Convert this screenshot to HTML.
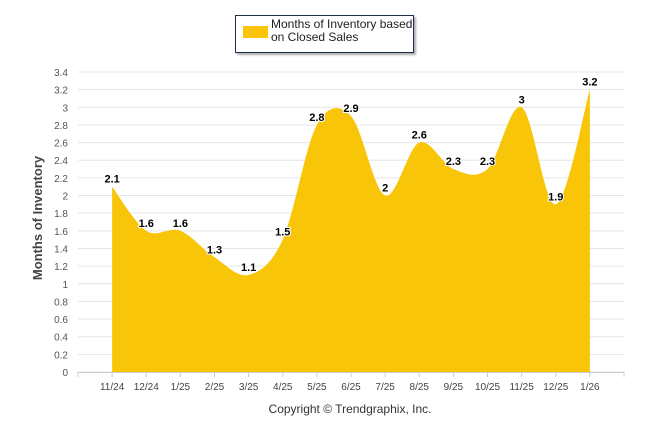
<!DOCTYPE html>
<html><head><meta charset="utf-8"><style>
body{margin:0;background:#fff;width:646px;height:434px;overflow:hidden;font-family:"Liberation Sans",sans-serif}
</style></head><body>
<svg id="c" width="646" height="434" xmlns="http://www.w3.org/2000/svg">
<g>
<rect x="235.5" y="15.5" width="178" height="37" fill="#fff" stroke="#1f2d4d" stroke-width="1" style="filter:drop-shadow(2px 2px 1px #aaa)"/>
<rect x="243" y="26" width="25" height="12" fill="#f8c508"/>
<text x="271" y="28" font-size="12" fill="#222">Months of Inventory based</text>
<text x="271" y="41" font-size="12" fill="#222">on Closed Sales</text>
</g>
<g id="grid"></g><g id="area"></g><g id="labels"></g>
<text transform="translate(42,218) rotate(-90)" text-anchor="middle" font-size="13" font-weight="bold" fill="#444">Months of Inventory</text>
<text x="350" y="413" text-anchor="middle" font-size="12" fill="#333">Copyright © Trendgraphix, Inc.</text>
</svg>
<script>
const categories=["11/24","12/24","1/25","2/25","3/25","4/25","5/25","6/25","7/25","8/25","9/25","10/25","11/25","12/25","1/26"];
const values=[2.1,1.6,1.6,1.3,1.1,1.5,2.8,2.9,2,2.6,2.3,2.3,3,1.9,3.2];
const yTicks=[0,0.2,0.4,0.6,0.8,1,1.2,1.4,1.6,1.8,2,2.2,2.4,2.6,2.8,3,3.2,3.4];
const NS="http://www.w3.org/2000/svg";
const L=78,R=624,T=72,B=372,ymax=3.4;
const step=(R-L)/(categories.length+1);
const x=i=>L+step*(i+1);
const y=v=>B-(v/ymax)*(B-T);
function mk(tag,at,parent){const e=document.createElementNS(NS,tag);for(const k in at)e.setAttribute(k,at[k]);parent.appendChild(e);return e;}
const grid=document.getElementById('grid');
yTicks.forEach(t=>{
 const ln=mk('line',{x1:L,x2:R,y1:y(t),y2:y(t),stroke:'#e6e6e6','stroke-width':1},grid);
 
 
 const tx=mk('text',{x:68,y:y(t)+4,'text-anchor':'end','font-size':10,fill:'#555'},grid);
 tx.textContent=String(t);
 
 
});
mk('line',{x1:L,x2:R,y1:B+0.5,y2:B+0.5,stroke:'#ccc'},grid);
for(let i=0;i<=categories.length+1;i++){mk('line',{x1:L+step*i,x2:L+step*i,y1:B,y2:B+5,stroke:'#ccc'},grid);}
categories.forEach((c,i)=>{
 const tx=mk('text',{x:x(i),y:B+18,'text-anchor':'middle','font-size':10,fill:'#444'},grid);
 tx.textContent=c;
 
 
});
const pts=values.map((v,i)=>[x(i),y(v)]);
let d=`M${pts[0][0]},${B} L${pts[0][0]},${pts[0][1]}`;
for(let i=0;i<pts.length-1;i++){
 const p0=pts[Math.max(0,i-1)],p1=pts[i],p2=pts[i+1],p3=pts[Math.min(pts.length-1,i+2)];
 const c1=[p1[0]+(p2[0]-p0[0])/6,p1[1]+(p2[1]-p0[1])/6];
 const c2=[p2[0]-(p3[0]-p1[0])/6,p2[1]-(p3[1]-p1[1])/6];
 d+=` C${c1[0]},${c1[1]} ${c2[0]},${c2[1]} ${p2[0]},${p2[1]}`;
}
d+=` L${pts[pts.length-1][0]},${B} Z`;
const ar=mk('path',{d:d,fill:'#f8c508'},document.getElementById('area'));


const lg=document.getElementById('labels');
values.forEach((v,i)=>{
 const tx=mk('text',{x:x(i),y:y(v)-4,'text-anchor':'middle','font-size':11,'font-weight':'bold',fill:'#000',stroke:'#fff','stroke-width':2,'paint-order':'stroke'},lg);
 tx.textContent=String(v);
 
 
});
</script>
</body></html>
